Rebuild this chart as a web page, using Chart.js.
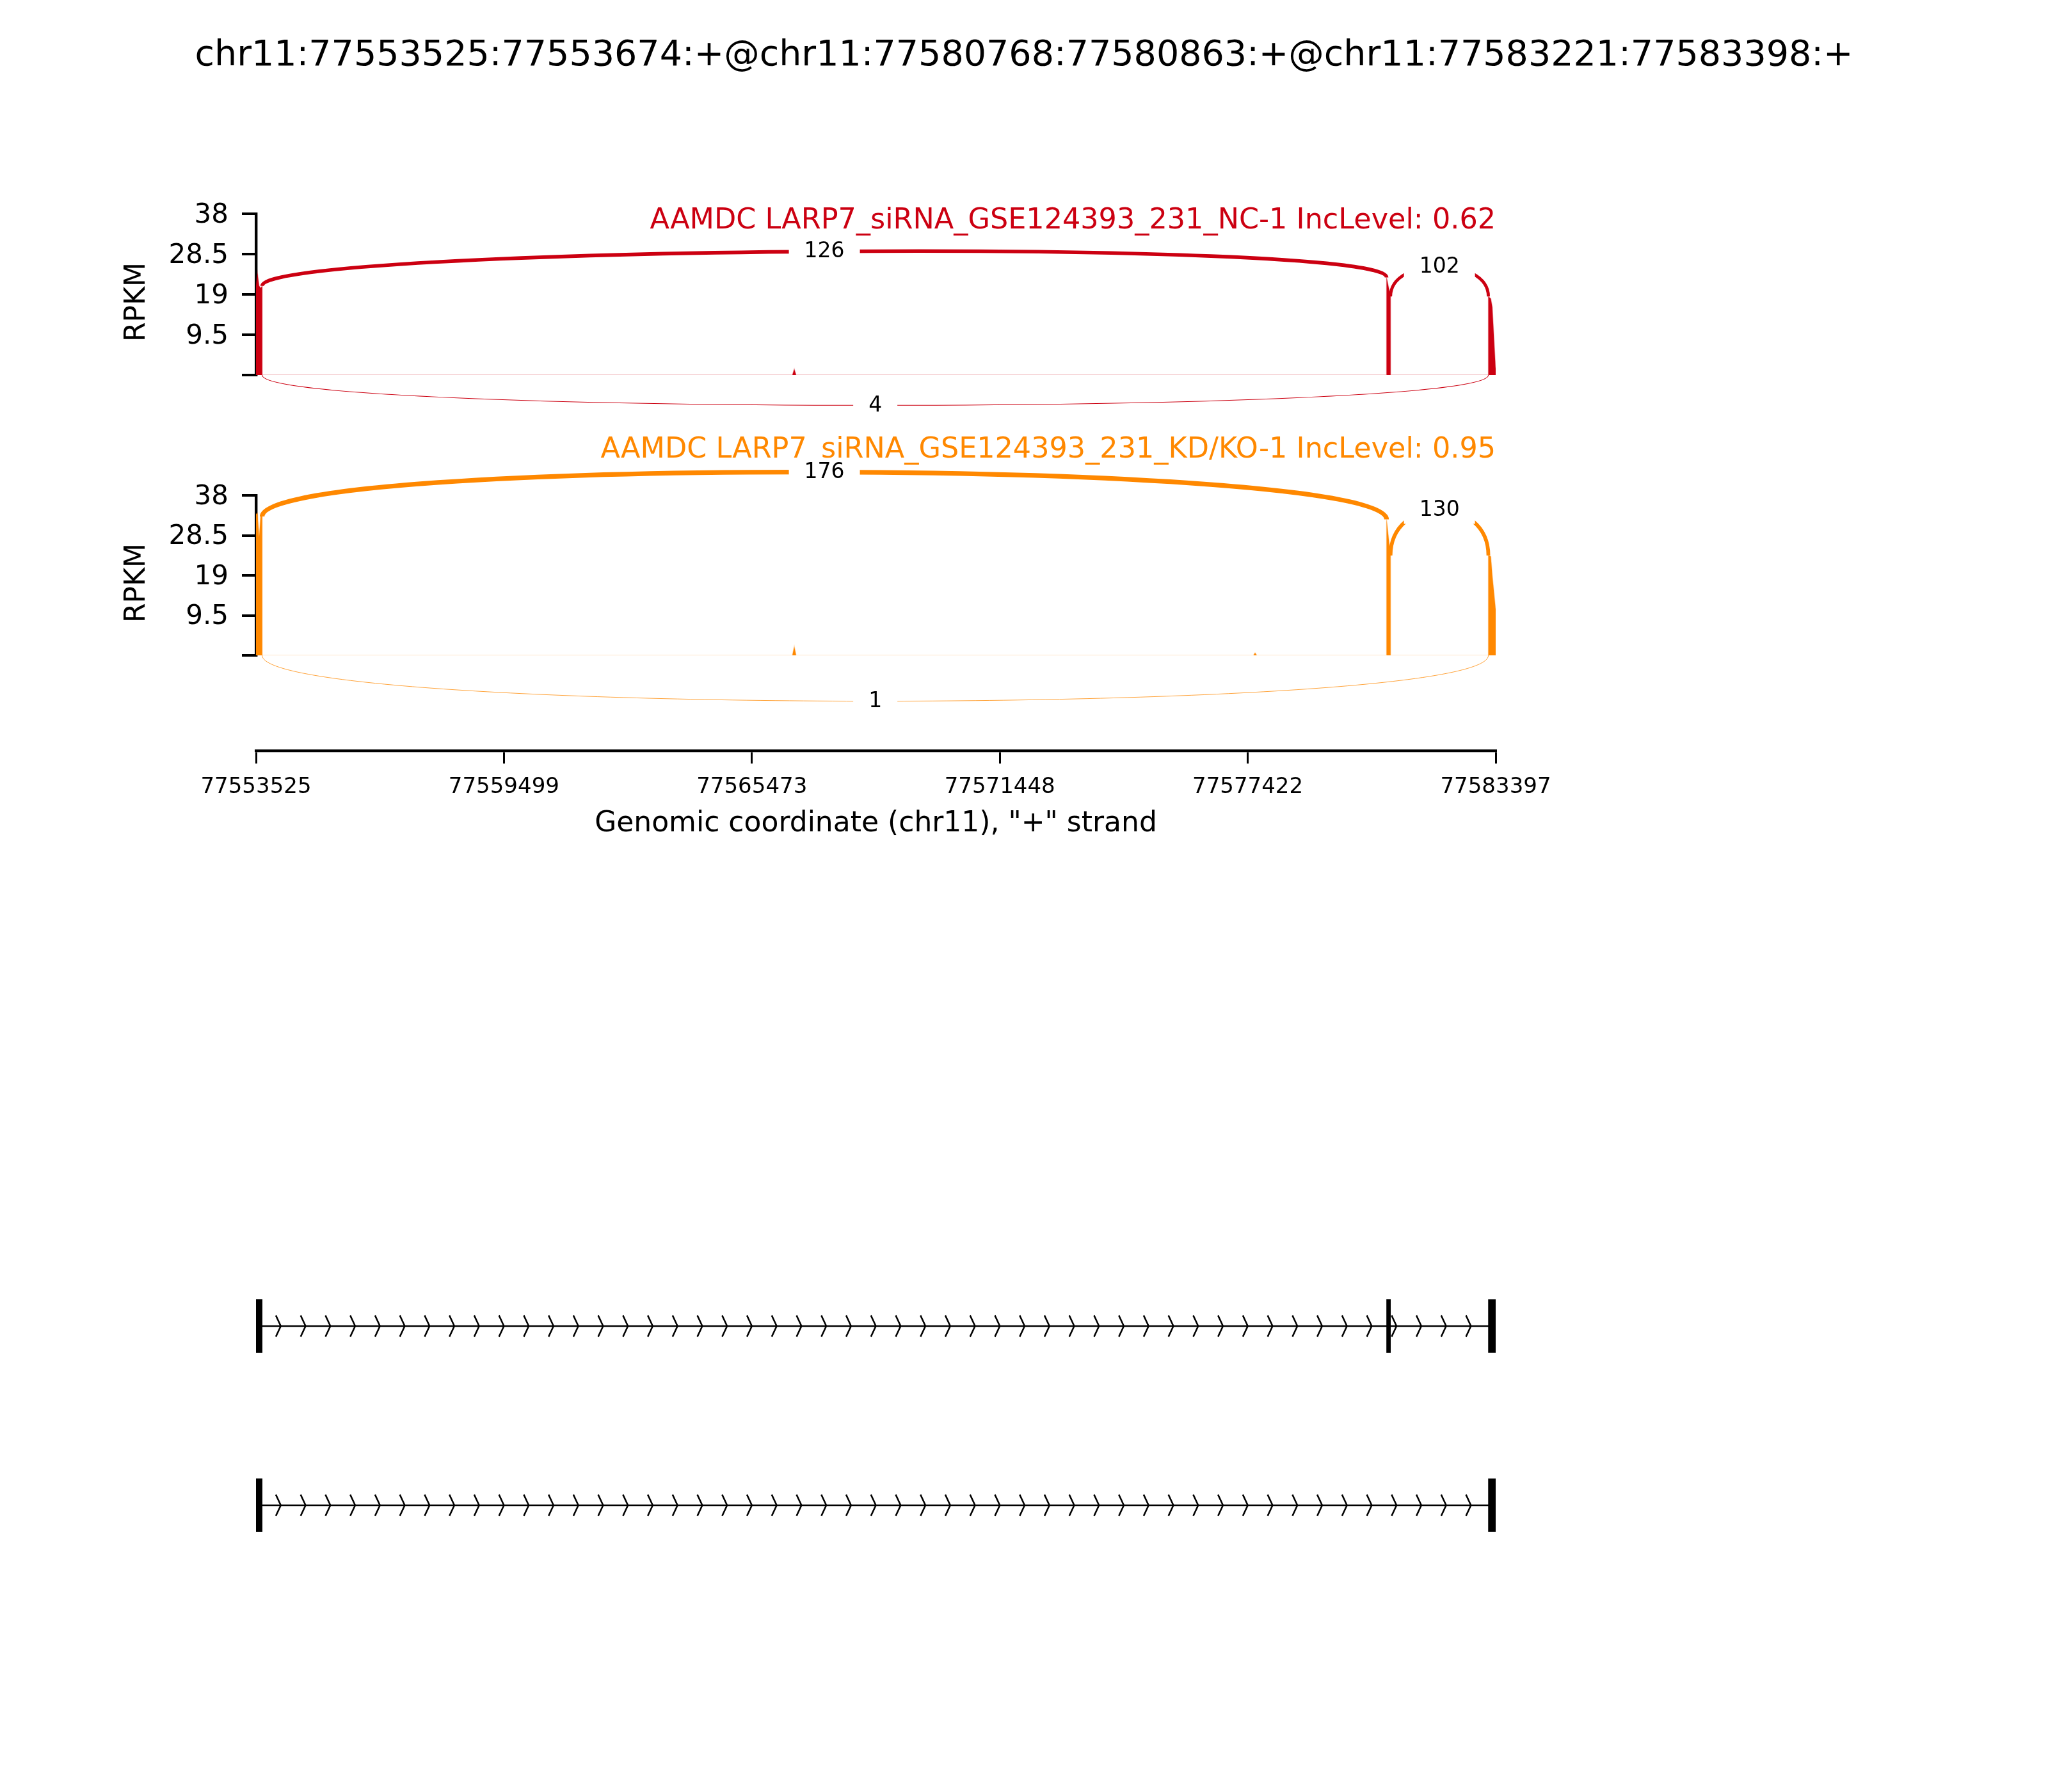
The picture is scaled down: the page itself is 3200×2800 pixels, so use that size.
<!DOCTYPE html>
<html lang="en">
<head>
<meta charset="UTF-8">
<title>Sashimi plot</title>
<script src="https://cdn.jsdelivr.net/npm/chart.js"></script>
<style>
  body { margin: 0; background: #fff; }
  #page { position: relative; width: 3200px; height: 2800px; background: #fff; overflow: hidden; }
  #page canvas { position: absolute; left: 0; }
  #title {
    position: absolute; left: 0; top: 50px; width: 3200px;
    text-align: center; font-family: 'DejaVu Sans', sans-serif;
    font-size: 55.5px; line-height: 66px; color: #000;
  }
</style>
</head>
<body>
<div id="page">
  <div id="title">chr11:77553525:77553674:+@chr11:77580768:77580863:+@chr11:77583221:77583398:+</div>
  <canvas id="panelNC" width="3200" height="660" style="top:0px"></canvas>
  <canvas id="panelKD" width="3200" height="480" style="top:660px"></canvas>
  <canvas id="axisX" width="3200" height="200" style="top:1140px"></canvas>
  <canvas id="genes" width="3200" height="600" style="top:1900px"></canvas>
</div>

<script>
const FONT = "'DejaVu Sans', sans-serif";

// genomic range and ticks
const xMin = 77553525;
const xMax = 77583397;
const xTicks = [77553525, 77559499, 77565473, 77571448, 77577422, 77583397];
const yTicks = [0, 9.5, 19, 28.5, 38];

// samples
const sampleLabels = ['AAMDC LARP7_siRNA_GSE124393_231_NC-1', 'AAMDC LARP7_siRNA_GSE124393_231_KD/KO-1'];
const incLevels = [0.62, 0.95];
const sampleColors = ['#CC0011', '#FF8800'];

// read coverage (RPKM) at a few positions
const covPos = [77553525, 77553560, 77553600, 77553640, 77553674, 77553675,
                77566450, 77566495, 77566540,
                77577560, 77577599, 77577640,
                77580767, 77580768, 77580863, 77580864,
                77583220, 77583221, 77583280, 77583315, 77583392, 77583397];
const covNC = [21, 24, 21, 20.5, 21, 0,
               0, 1.4, 0,
               0, 0, 0,
               0, 23, 18.5, 0,
               0, 18.5, 18, 16, 2, 1.5];
const covKD = [33.5, 33.8, 28, 33.5, 33, 0,
               0, 2.1, 0,
               0, 0.6, 0,
               0, 32.3, 23.7, 0,
               0, 23.7, 23.5, 19, 11.3, 11];

// junctions
const juncStart = [77553674, 77580863, 77553674];
const juncEnd = [77580768, 77583221, 77583221];
const juncSide = ['above', 'above', 'below'];
const juncNC = [126, 102, 4];
const juncKD = [176, 130, 1];

// transcript models
const exonStartsInc = [77553525, 77580768, 77583221];
const exonEndsInc = [77553674, 77580863, 77583398];
const exonStartsSkip = [77553525, 77583221];
const exonEndsSkip = [77553674, 77583398];

function rgba(hex, a) {
  const n = parseInt(hex.slice(1), 16);
  return 'rgba(' + (n >> 16 & 255) + ',' + (n >> 8 & 255) + ',' + (n & 255) + ',' + a + ')';
}

const maxCount = Math.max(...juncNC, ...juncKD);

// arc width grows with the junction read count, with a hairline floor
function arcWidth(count) {
  return Math.max(7.3 * Math.pow(count / maxCount, 0.75), 0.7 + 0.08 * Math.min(count, 4));
}

// draws the sample title, the y label, the junction arcs and their counts
const sashimiPlugin = {
  id: 'sashimi',
  beforeDatasetsDraw(chart, args, opts) {
    const ctx = chart.ctx;
    const area = chart.chartArea;
    ctx.save();
    ctx.font = '44.5px ' + FONT;
    ctx.fillStyle = opts.color;
    ctx.textAlign = 'right';
    ctx.textBaseline = 'alphabetic';
    ctx.fillText(opts.label + ' IncLevel: ' + opts.inc, area.right, area.top + opts.titleOffset);
    // y axis label, sits a little below the spine centre as in the original
    ctx.translate(215, (area.top + area.bottom) / 2 + 12);
    ctx.rotate(-Math.PI / 2);
    ctx.font = '44px ' + FONT;
    ctx.fillStyle = '#000';
    ctx.textAlign = 'center';
    ctx.textBaseline = 'middle';
    ctx.fillText('RPKM', 0, 0);
    ctx.restore();
  },
  afterDatasetsDraw(chart, args, opts) {
    const ctx = chart.ctx;
    const xs = chart.scales.x, ys = chart.scales.y;
    const covAt = pos => opts.cov[covPos.indexOf(pos)];
    const labels = [];
    ctx.save();
    for (let i = 0; i < juncStart.length; i++) {
      const count = opts.counts[i];
      const x1 = xs.getPixelForValue(juncStart[i]);
      const x2 = xs.getPixelForValue(juncEnd[i]);
      let y1, y2, c1, c2;
      if (juncSide[i] === 'above') {
        const l = covAt(juncStart[i]), r = covAt(juncEnd[i]);
        y1 = ys.getPixelForValue(l);
        y2 = ys.getPixelForValue(r);
        c1 = ys.getPixelForValue(l + opts.lift);
        c2 = ys.getPixelForValue(r + opts.lift);
      } else {
        y1 = y2 = ys.getPixelForValue(0);
        c1 = c2 = ys.getPixelForValue(-opts.lift);
      }
      ctx.beginPath();
      ctx.moveTo(x1, y1);
      ctx.bezierCurveTo(x1, c1, x2, c2, x2, y2);
      ctx.lineWidth = arcWidth(count);
      ctx.strokeStyle = opts.color;
      ctx.stroke();
      labels.push({x: (x1 + x2) / 2, y: (y1 + 3 * c1 + 3 * c2 + y2) / 8, text: String(count)});
    }
    ctx.font = '33px ' + FONT;
    ctx.textAlign = 'center';
    ctx.textBaseline = 'middle';
    labels.forEach(l => {
      const w = ctx.measureText(l.text).width;
      ctx.fillStyle = '#fff';
      ctx.fillRect(l.x - w / 2 - 24, l.y - 22, w + 48, 44);
      ctx.fillStyle = '#000';
      ctx.fillText(l.text, l.x, l.y + 1);
    });
    ctx.restore();
  }
};

function makePanel(id, idx, cov, counts, padTop, padBottom, lift, titleOffset) {
  const color = sampleColors[idx];
  return new Chart(document.getElementById(id), {
    type: 'line',
    data: {
      datasets: [{
        data: covPos.map((p, i) => ({x: p, y: cov[i]})),
        fill: 'origin',
        backgroundColor: color,
        borderColor: rgba(color, 0.3),
        borderWidth: 1.5,
        pointRadius: 0,
        tension: 0
      }]
    },
    options: {
      responsive: false,
      animation: false,
      devicePixelRatio: 1,
      layout: { padding: { left: 160, right: 863, top: padTop, bottom: padBottom } },
      plugins: {
        legend: { display: false },
        tooltip: { enabled: false },
        sashimi: { color: color, label: sampleLabels[idx], inc: incLevels[idx], cov: cov,
                   counts: counts, lift: lift, titleOffset: titleOffset }
      },
      scales: {
        x: { type: 'linear', min: xMin, max: xMax, display: false },
        y: {
          type: 'linear', min: 0, max: 38,
          afterBuildTicks: s => { s.ticks = yTicks.map(v => ({value: v})); },
          afterFit: s => { s.width = 240; },
          border: { display: true, width: 4.4, color: '#000' },
          grid: { drawOnChartArea: false, drawTicks: true, tickLength: 22, lineWidth: 4, color: '#000' },
          ticks: { padding: 21, labelOffset: 3, color: '#000', font: { family: FONT, size: 42 },
                   callback: v => v === 0 ? '' : String(v) }
        }
      }
    },
    plugins: [sashimiPlugin]
  });
}

makePanel('panelNC', 0, covNC, juncNC, 334, 74, 9.5, 23);
makePanel('panelKD', 1, covKD, juncKD, 114, 116, 14.5, -59);

// genomic coordinate axis
new Chart(document.getElementById('axisX'), {
  type: 'line',
  data: { datasets: [] },
  options: {
    responsive: false,
    animation: false,
    devicePixelRatio: 1,
    layout: { padding: { left: 400, right: 863, top: 10, bottom: 22 } },
    plugins: { legend: { display: false }, tooltip: { enabled: false } },
    scales: {
      x: {
        type: 'linear', position: 'bottom', min: xMin, max: xMax,
        afterBuildTicks: s => { s.ticks = xTicks.map(v => ({value: v})); },
        afterFit: s => { s.height = 145; },
        border: { display: true, width: 4.3, color: '#000' },
        grid: { drawOnChartArea: false, drawTicks: true, tickLength: 20, lineWidth: 3, color: '#000' },
        ticks: { padding: 17, color: '#000', font: { family: FONT, size: 34 },
                 minRotation: 0, maxRotation: 0, autoSkip: false, callback: v => String(v) },
        title: { display: true, text: 'Genomic coordinate (chr11), "+" strand', color: '#000',
                 font: { family: FONT, size: 44 }, padding: { top: 4, bottom: 4 } }
      },
      y: { display: false, min: 0, max: 1 }
    }
  }
});

// transcript models with strand chevrons
const transcripts = [
  { row: 1, starts: exonStartsInc, ends: exonEndsInc },
  { row: 3, starts: exonStartsSkip, ends: exonEndsSkip }
];
const EXON_H = 83;

const chevronPlugin = {
  id: 'chevrons',
  afterDatasetsDraw(chart) {
    const ctx = chart.ctx;
    const xs = chart.scales.x, ys = chart.scales.y;
    ctx.save();
    ctx.strokeStyle = '#000';
    ctx.lineWidth = 2.5;
    transcripts.forEach(t => {
      const s = t.starts[0], e = t.ends[t.ends.length - 1];
      const step = (e - s) / 50;
      const yc = ys.getPixelForValue(t.row);
      const dy = EXON_H / 5;
      for (let i = 1; i < 50; i++) {
        const tip = xs.getPixelForValue(s + i * step);
        const back = xs.getPixelForValue(s + i * step - 0.2 * step);
        ctx.beginPath();
        ctx.moveTo(back, yc - dy);
        ctx.lineTo(tip, yc);
        ctx.lineTo(back, yc + dy);
        ctx.stroke();
      }
    });
    ctx.restore();
  }
};

const geneDatasets = [];
transcripts.forEach(t => {
  geneDatasets.push({
    type: 'line',
    data: [{x: t.starts[0], y: t.row}, {x: t.ends[t.ends.length - 1], y: t.row}],
    borderColor: '#000',
    borderWidth: 2.7,
    pointRadius: 0,
    order: 2
  });
  geneDatasets.push({
    type: 'bar',
    indexAxis: 'y',
    data: t.starts.map((s, k) => ({x: [s, t.ends[k]], y: t.row})),
    backgroundColor: '#000',
    borderWidth: 0,
    barThickness: EXON_H,
    grouped: false,
    order: 1
  });
});

new Chart(document.getElementById('genes'), {
  type: 'line',
  data: { datasets: geneDatasets },
  options: {
    responsive: false,
    animation: false,
    devicePixelRatio: 1,
    layout: { padding: { left: 400, right: 863, top: 32, bottom: 8 } },
    plugins: { legend: { display: false }, tooltip: { enabled: false } },
    scales: {
      x: { type: 'linear', min: xMin, max: xMax, display: false, offset: false },
      y: { type: 'linear', min: 0, max: 4, reverse: true, display: false, offset: false }
    }
  },
  plugins: [chevronPlugin]
});
</script>
</body>
</html>
